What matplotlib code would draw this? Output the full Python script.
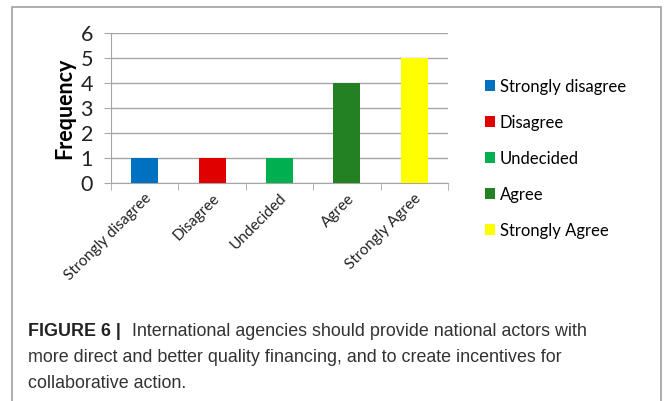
import matplotlib
matplotlib.use("Agg")
import matplotlib.pyplot as plt
from matplotlib.patches import Rectangle

categories = ["Strongly disagree", "Disagree", "Undecided", "Agree", "Strongly Agree"]
values = [1, 1, 1, 4, 5]
colors = ["#0070C0", "#E00000", "#00B050", "#238023", "#FFFF00"]
yticks = [0, 1, 2, 3, 4, 5, 6]

fam = ["Lato", "DejaVu Sans"]
capfam = ["Liberation Sans", "DejaVu Sans"]

fig = plt.figure(figsize=(6.65, 4.01), dpi=100)
fig.patches.append(Rectangle((12/665, -0.1), (661-12)/665, 1.1 - 7/401, transform=fig.transFigure,
                             fill=False, edgecolor="#a0a0a0", linewidth=1.2))

ax = fig.add_axes([111/665, 1 - 183/401, 337/665, 150/401])
x = range(len(categories))
bars = ax.bar(x, values, width=0.4, color=colors, label=categories, zorder=3)
ax.set_xlim(-0.5, len(categories) - 0.5)
ax.set_ylim(0, 6)
ax.set_yticks(yticks)
ax.set_yticklabels([str(t) for t in yticks], fontsize=15.5, family=fam, color="#222222")
ax.yaxis.grid(True, color="#a6a6a6", linewidth=1, zorder=0)
ax.set_xticks([i for i in x])
ax.set_xticklabels(categories, rotation=45, ha="right", rotation_mode="anchor",
                   fontsize=11, family=fam, color="#222222")
ax.set_xticks([i - 0.5 for i in range(len(categories) + 1)], minor=True)
ax.tick_params(axis="x", which="major", length=0, pad=6)
ax.tick_params(axis="x", which="minor", length=5, color="#a6a6a6")
ax.tick_params(axis="y", length=5, color="#a6a6a6", pad=8)
for s in ["top", "right"]:
    ax.spines[s].set_visible(False)
for s in ["left", "bottom"]:
    ax.spines[s].set_color("#a6a6a6")
ax.set_ylabel("Frequency", fontsize=15.5, fontweight="bold", family=fam, labelpad=4)

leg = fig.legend(handles=bars, labels=categories, loc="upper left",
                 bbox_to_anchor=(478/665, 1 - 72/401), frameon=False,
                 prop={"family": fam, "size": 12}, handlelength=0.6, handleheight=0.6,
                 handletextpad=0.3, labelspacing=1.2, borderaxespad=0)

cs = 12.9
y0 = 1 - 331/401
fig.text(28/665, y0, "FIGURE 6 |", fontsize=cs, fontweight="bold", family=capfam,
         va="center", color="#222222")
fig.text(132/665, y0, "International agencies should provide national actors with",
         fontsize=cs, family=capfam, va="center", color="#333333")
fig.text(28/665, 1 - 358/401, "more direct and better quality financing, and to create incentives for",
         fontsize=cs, family=capfam, va="center", color="#333333")
fig.text(28/665, 1 - 384/401, "collaborative action.", fontsize=cs, family=capfam,
         va="center", color="#333333")

fig.savefig("out.png", dpi=100)
